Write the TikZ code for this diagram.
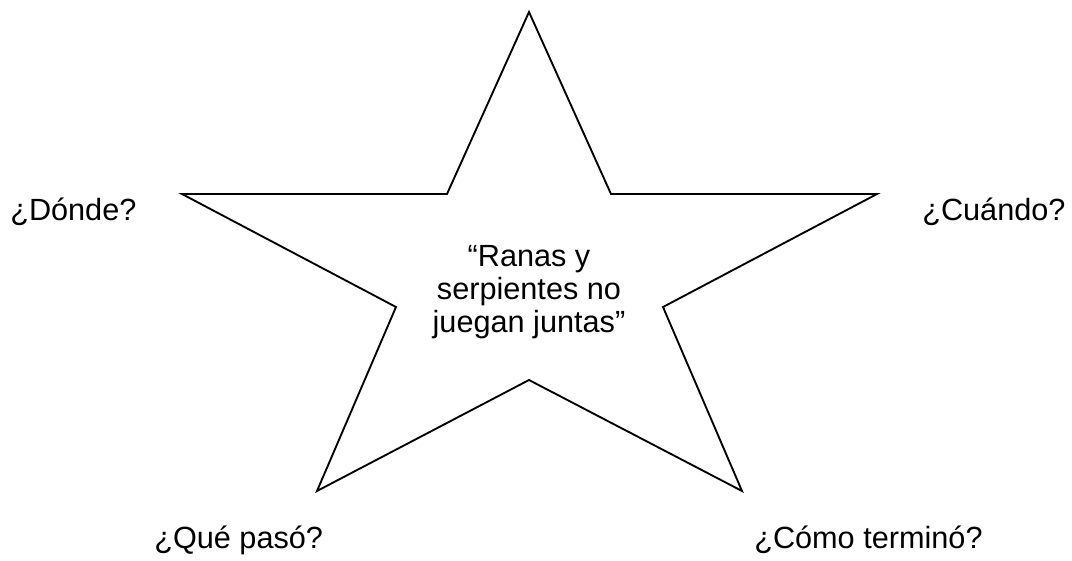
\documentclass[tikz,border=0pt]{standalone}
\usepackage{fontspec}
\setmainfont{Liberation Sans}
\begin{document}
\begin{tikzpicture}[x=0.75pt,y=-0.75pt,
  lbl/.style={anchor=base west,inner sep=0pt,font=\fontsize{23}{26}\selectfont},
  mid/.style={align=center,inner sep=0pt,font=\fontsize{23}{25}\selectfont}]
  \useasboundingbox (0,0) rectangle (1072,561);
  \draw[line width=1.4pt,line join=miter] (529,12) -- (611,194) -- (877,194) -- (663,307)
    -- (742,491) -- (529,380) -- (317,491) -- (396,307) -- (182,194) -- (447,194) -- cycle;
  \node[mid] (title) at (529,292) {``Ranas y\\serpientes no\\juegan juntas''};
  \node[lbl] (donde) at (10,220) {¿Dónde?};
  \node[lbl] (cuando) at (922,220) {¿Cuándo?};
  \node[lbl] (que) at (154,548) {¿Qué pasó?};
  \node[lbl] (como) at (754,548) {¿Cómo terminó?};
\end{tikzpicture}
\end{document}
